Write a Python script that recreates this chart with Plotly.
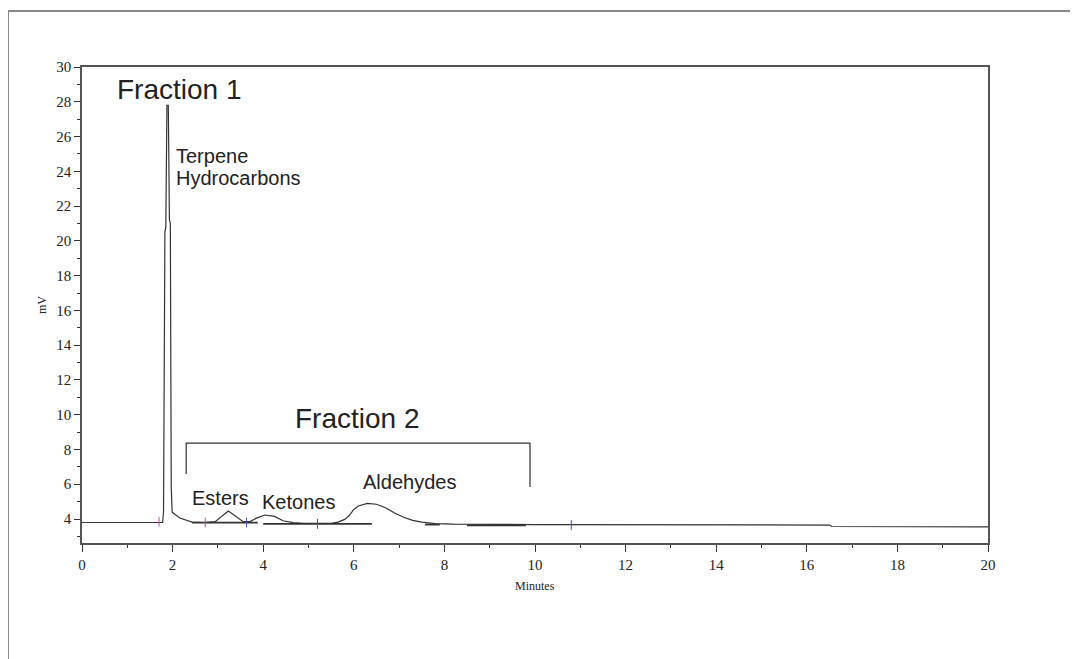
import plotly.graph_objects as go

# Chromatogram signal (minutes, mV)
time_min = [0, 1.0, 1.06, 1.7, 1.78, 1.80, 1.81, 1.83, 1.85, 1.875, 1.905, 1.93, 1.95, 1.96, 1.97, 1.99,
            2.01, 2.16, 2.43, 2.7, 2.94, 3.23, 3.56, 3.71, 3.85, 4.04, 4.25, 4.44, 4.66, 4.9, 5.2,
            5.5, 5.65, 5.8, 5.9, 6.0, 6.1, 6.3, 6.5, 6.7, 6.9, 7.1, 7.3, 7.5, 7.8, 8.2, 10.0,
            16.5, 16.55, 20.0]
signal_mv = [3.80, 3.80, 3.77, 3.77, 3.80, 4.4, 9.5, 20.5, 20.8, 27.8, 27.8, 21.2, 21.0, 10.5, 5.8, 4.4,
             4.35, 4.06, 3.82, 3.80, 3.85, 4.46, 3.85, 3.85, 4.05, 4.23, 4.15, 3.9, 3.79, 3.75, 3.74,
             3.75, 3.82, 3.98, 4.2, 4.55, 4.75, 4.9, 4.85, 4.65, 4.35, 4.1, 3.92, 3.82, 3.74, 3.70, 3.68,
             3.65, 3.57, 3.55]

# Integration baseline segments (start, end, level)
seg_start = [2.43, 4.0, 7.57, 8.5]
seg_end = [3.88, 6.4, 7.9, 9.8]
seg_level = [3.79, 3.72, 3.68, 3.64]

# Peak event markers
event_t = [1.70, 2.72, 3.63, 5.20, 10.8]
event_v = [3.85, 3.80, 3.80, 3.72, 3.66]
event_color = ["#c0509a", "#c0509a", "#4050c0", "#4050c0", "#4050c0"]

# Fraction 2 bracket (minutes, mV)
bracket_x = [2.30, 2.30, 9.89, 9.89]
bracket_y = [6.59, 8.37, 8.37, 5.84]

# Labels (text, x, y, size, anchor)
labels = [
    ("Fraction 1", 0.73, 28.68, 28, "left"),
    ("Terpene", 2.03, 24.88, 20, "left"),
    ("Hydrocarbons", 2.03, 23.61, 20, "left"),
    ("Fraction 2", 4.66, 9.80, 28, "left"),
    ("Esters", 3.05, 5.23, 20, "center"),
    ("Ketones", 4.78, 4.99, 20, "center"),
    ("Aldehydes", 7.23, 6.11, 20, "center"),
]

x_ticks = list(range(0, 21, 2))
y_ticks = list(range(4, 31, 2))

fig = go.Figure()

for s, e, lv in zip(seg_start, seg_end, seg_level):
    fig.add_trace(go.Scatter(x=[s, e], y=[lv, lv], mode="lines",
                             line=dict(color="#333", width=1.8), hoverinfo="skip", showlegend=False))

fig.add_trace(go.Scatter(x=time_min, y=signal_mv, mode="lines",
                         line=dict(color="#333", width=1.2), showlegend=False))

fig.add_trace(go.Scatter(x=event_t, y=event_v, mode="markers",
                         marker=dict(symbol="line-ns", size=7, line=dict(color=event_color, width=1)),
                         hoverinfo="skip", showlegend=False))

fig.add_trace(go.Scatter(x=bracket_x, y=bracket_y, mode="lines",
                         line=dict(color="#333", width=1.2), hoverinfo="skip", showlegend=False))

for text, x, y, size, anchor in labels:
    fig.add_annotation(x=x, y=y, text=text, showarrow=False, xanchor=anchor, yanchor="middle",
                       font=dict(family="Liberation Sans, Arial", size=size, color="#222"))

# Axis titles
fig.add_annotation(xref="paper", yref="paper", x=0, y=0.5, xshift=-49, text="mV", textangle=-90,
                   showarrow=False, font=dict(family="Liberation Serif, Times New Roman", size=12, color="#222"))
fig.add_annotation(xref="paper", yref="paper", x=0.5, y=0, yshift=-52, text="Minutes",
                   showarrow=False, font=dict(family="Liberation Serif, Times New Roman", size=12, color="#222"))

# Outer frame (top and left edges)
fig.add_shape(type="line", xref="paper", yref="paper", x0=-0.0817, x1=1.11, y0=1.1176, y1=1.1176,
              line=dict(color="#888", width=2))
fig.add_shape(type="line", xref="paper", yref="paper", x0=-0.0817, x1=-0.0817, y0=1.1176, y1=-0.3,
              line=dict(color="#888", width=2))

axis_font = dict(family="Liberation Serif, Times New Roman", size=15, color="#222")
fig.update_xaxes(range=[0, 20], tickvals=x_ticks, ticktext=[str(v) for v in x_ticks],
                 ticks="outside", ticklen=7, tickwidth=1, tickcolor="#333",
                 minor=dict(dtick=1, ticks="outside", ticklen=3, tickcolor="#333"),
                 showline=True, linecolor="#555", linewidth=1.5, mirror=True,
                 showgrid=False, zeroline=False, tickfont=axis_font)
fig.update_yaxes(range=[2.62, 30], tickvals=y_ticks, ticktext=[str(v) for v in y_ticks],
                 ticks="outside", ticklen=6, tickwidth=1, tickcolor="#333",
                 minor=dict(dtick=1, tick0=0, ticks="outside", ticklen=3, tickcolor="#333"),
                 showline=True, linecolor="#555", linewidth=1.5, mirror=True,
                 showgrid=False, zeroline=False, tickfont=axis_font)

fig.update_layout(width=1070, height=651, margin=dict(l=74, r=90, t=59, b=116),
                  paper_bgcolor="white", plot_bgcolor="white", showlegend=False)

fig.write_html("out.html")
